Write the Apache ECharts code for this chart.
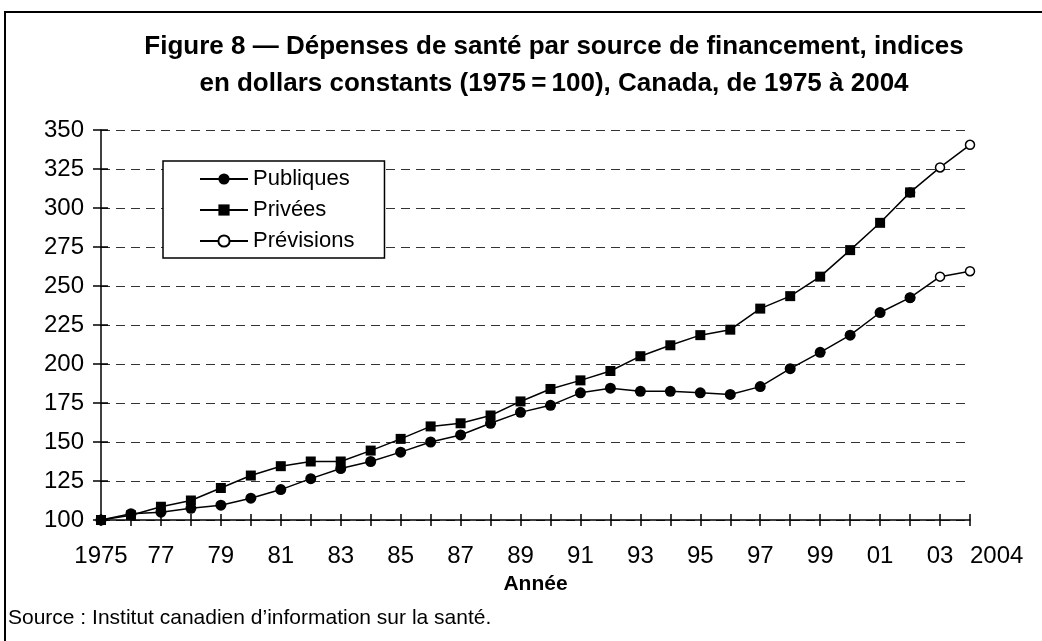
<!DOCTYPE html>
<html>
<head>
<meta charset="utf-8">
<script src="https://cdn.jsdelivr.net/npm/echarts@6/dist/echarts.min.js"></script>
<style>
  html, body { margin: 0; padding: 0; background: #fff; }
  #main { width: 1042px; height: 641px; }
</style>
</head>
<body>
<div id="main"></div>
<script>
// années 1975 à 2004
var annees = ['1975', '1976', '1977', '1978', '1979', '1980', '1981', '1982', '1983', '1984',
  '1985', '1986', '1987', '1988', '1989', '1990', '1991', '1992', '1993', '1994',
  '1995', '1996', '1997', '1998', '1999', '2000', '2001', '2002', '2003', '2004'];
// étiquettes affichées sous l'axe (une sur deux)
var etiquettes = ['1975', '', '77', '', '79', '', '81', '', '83', '', '85', '', '87', '', '89', '',
  '91', '', '93', '', '95', '', '97', '', '99', '', '01', '', '03', '2004'];
// indices observés 1975-2002
var publiques = [100, 104, 105, 107.5, 109.5, 114, 119.5, 126.5, 133, 137.5, 143.5, 150, 154.5,
  162, 169, 173.5, 181.5, 184.5, 182.5, 182.5, 181.5, 180.5, 185.5, 197, 207.5, 218.5, 233, 242.5];
var privees = [100, 103, 108.5, 112.5, 120.5, 128.5, 134.5, 137.5, 137.5, 144.5, 152, 160, 162,
  167, 176, 184, 189.5, 195.5, 205, 212, 218.5, 222, 235.5, 243.5, 256, 273, 290.5, 310];
// prévisions 2003 et 2004
var previsionsPubliques = [256, 259.5];
var previsionsPrivees = [326, 340.5];
var graduations = [100, 350, 25];

var chart = echarts.init(document.getElementById('main'));

var nbObs = publiques.length;
function observes(vals) {
  return vals.concat(annees.slice(nbObs).map(function () { return null; }));
}
function previsions(vals, prev) {
  var out = annees.map(function () { return null; });
  out[nbObs - 1] = vals[nbObs - 1];
  prev.forEach(function (v, i) { out[nbObs + i] = v; });
  return out;
}

var police = '"Liberation Sans", Arial, Helvetica, sans-serif';
var ligne = { color: '#000', width: 1.5 };

chart.setOption({
  backgroundColor: '#fff',
  animation: false,
  textStyle: { fontFamily: police, color: '#000' },
  title: {
    text: 'Figure 8 \u2014 Dépenses de santé par source de financement, indices\nen dollars constants (1975\u2009=\u2009100), Canada, de 1975 à 2004',
    left: 549,
    top: 23,
    textAlign: 'center',
    textStyle: { fontSize: 26, fontWeight: 'bold', lineHeight: 37, color: '#000', fontFamily: police }
  },
  graphic: [
    {
      // cadre
      type: 'rect',
      z: -1,
      shape: { x: 5, y: 12, width: 1200, height: 800 },
      style: { fill: 'none', stroke: '#000', lineWidth: 2 }
    },
    {
      type: 'text',
      left: 8,
      top: 608,
      style: { text: 'Source : Institut canadien d\u2019information sur la santé.', fontSize: 21, fontFamily: police, fill: '#000' }
    }
  ],
  legend: {
    orient: 'vertical',
    left: 163,
    top: 161,
    padding: [7, 30, 6, 36],
    itemWidth: 48,
    itemHeight: 14,
    itemGap: 9,
    backgroundColor: '#fff',
    borderColor: '#000',
    borderWidth: 1.5,
    textStyle: { fontSize: 22, color: '#000', fontFamily: police },
    data: ['Publiques', 'Privées', 'Prévisions']
  },
  grid: { left: 101, right: 72, top: 130, bottom: 121 },
  xAxis: [
    {
      type: 'category',
      boundaryGap: false,
      data: annees.map(function (a, i) {
        return i === annees.length - 1 ? { value: a, textStyle: { align: 'left' } } : a;
      }),
      name: 'Année',
      nameLocation: 'middle',
      nameGap: 54,
      nameTextStyle: { fontSize: 21, fontWeight: 'bold', color: '#000', fontFamily: police },
      axisLine: { onZero: false, lineStyle: { color: '#000', width: 1.5 } },
      axisTick: { interval: 0, length: 6, lineStyle: { color: '#000', width: 1.5 } },
      axisLabel: {
        interval: 0,
        margin: 24,
        fontSize: 24,
        color: '#000',
        formatter: function (v, i) { return etiquettes[i]; }
      },
      splitLine: { show: false }
    },
    {
      // graduations vers l'intérieur
      type: 'category',
      position: 'bottom',
      boundaryGap: false,
      data: annees,
      axisLine: { show: false, onZero: false },
      axisTick: { inside: true, interval: 0, length: 6, lineStyle: { color: '#000', width: 1.5 } },
      axisLabel: { show: false },
      splitLine: { show: false }
    }
  ],
  yAxis: [
    {
      type: 'value',
      min: graduations[0],
      max: graduations[1],
      interval: graduations[2],
      axisLine: { show: true, lineStyle: { color: '#000', width: 1.5 } },
      axisTick: { show: true, length: 8, lineStyle: { color: '#000', width: 1.5 } },
      axisLabel: { margin: 17, fontSize: 24, color: '#000' },
      splitLine: { lineStyle: { color: '#333', width: 1, type: [9, 6] } }
    },
    {
      type: 'value',
      position: 'left',
      min: graduations[0],
      max: graduations[1],
      interval: graduations[2],
      axisLine: { show: false },
      axisTick: { show: true, inside: true, length: 7, lineStyle: { color: '#000', width: 1.5 } },
      axisLabel: { show: false },
      splitLine: { show: false }
    }
  ],
  series: [
    {
      name: 'Prévisions',
      type: 'line',
      z: 2,
      data: previsions(publiques, previsionsPubliques),
      symbol: 'circle',
      symbolSize: 9,
      showAllSymbol: true,
      lineStyle: ligne,
      itemStyle: { color: '#fff', borderColor: '#000', borderWidth: 1.5 }
    },
    {
      name: 'Prévisions',
      type: 'line',
      z: 2,
      data: previsions(privees, previsionsPrivees),
      symbol: 'circle',
      symbolSize: 9,
      showAllSymbol: true,
      lineStyle: ligne,
      itemStyle: { color: '#fff', borderColor: '#000', borderWidth: 1.5 }
    },
    {
      name: 'Publiques',
      type: 'line',
      z: 3,
      data: observes(publiques),
      symbol: 'circle',
      symbolSize: 11,
      showAllSymbol: true,
      lineStyle: ligne,
      itemStyle: { color: '#000' }
    },
    {
      name: 'Privées',
      type: 'line',
      z: 3,
      data: observes(privees),
      symbol: 'rect',
      symbolSize: 10,
      showAllSymbol: true,
      lineStyle: ligne,
      itemStyle: { color: '#000' }
    }
  ]
});

window.addEventListener('resize', function () {
  chart.resize();
});
</script>
</body>
</html>
